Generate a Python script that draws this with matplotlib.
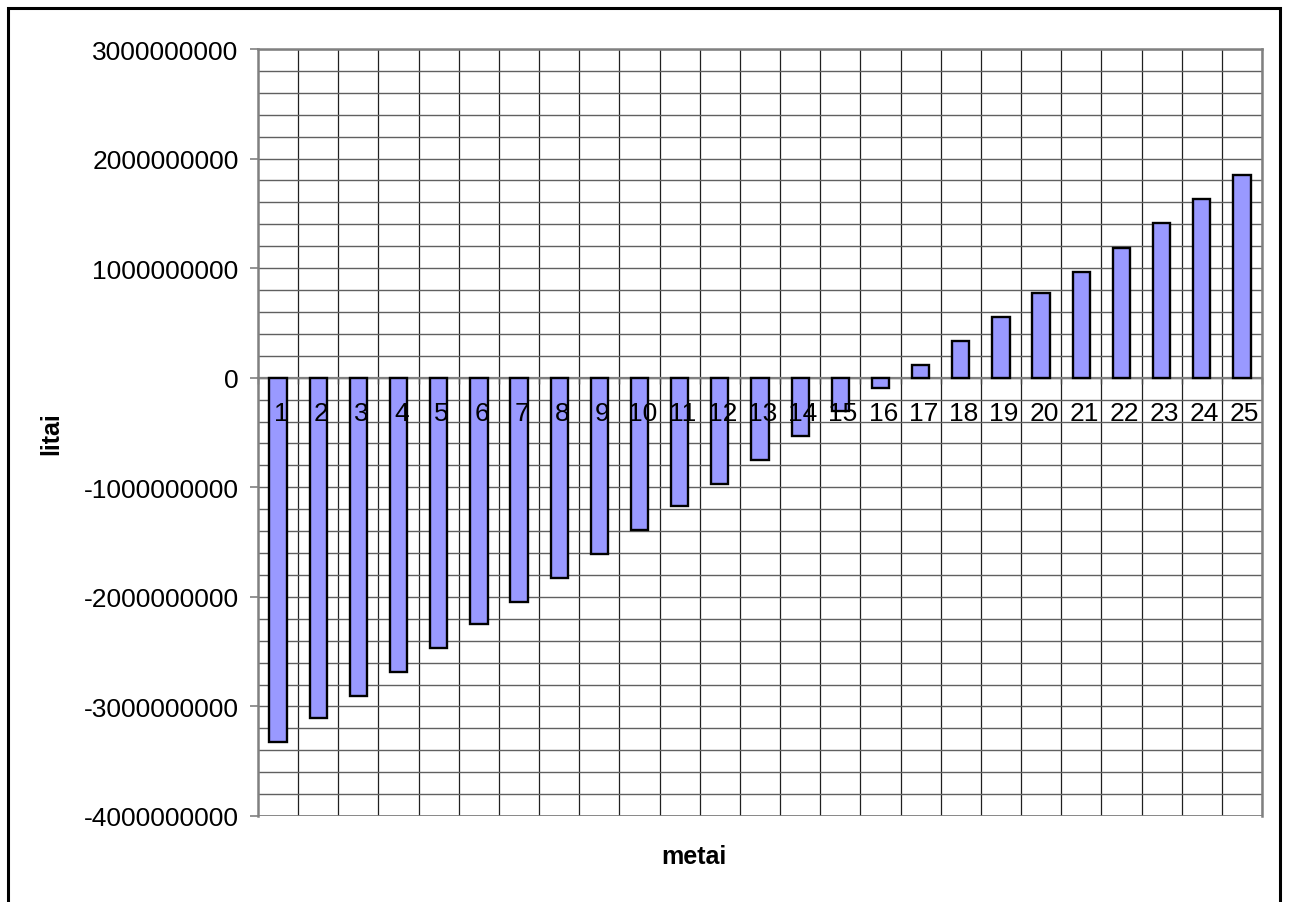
import matplotlib
matplotlib.use("Agg")
import matplotlib.pyplot as plt
import numpy as np
from matplotlib.patches import Rectangle
from matplotlib.ticker import MultipleLocator, FuncFormatter

plt.rcParams['font.family'] = ['Liberation Sans', 'DejaVu Sans']

# Annual balance (litai) per year (metai)
years = list(range(1, 26))
values = [
    -3.325e9, -3.108e9, -2.904e9, -2.685e9, -2.468e9,
    -2.249e9, -2.045e9, -1.828e9, -1.606e9, -1.390e9,
    -1.167e9, -0.972e9, -0.747e9, -0.530e9, -0.308e9,
    -0.091e9, 0.112e9, 0.332e9, 0.551e9, 0.771e9,
    0.969e9, 1.188e9, 1.410e9, 1.630e9, 1.849e9,
]
y_min, y_max = -4e9, 3e9

W, H = 1289, 903
fig = plt.figure(figsize=(W / 100, H / 100), dpi=100)
fig.patch.set_facecolor('white')

# outer chart frame (bottom edge runs off the canvas)
fig.add_artist(Rectangle((7.5 / W, -0.05), (1280 - 7.5) / W, 1 - 9 / H + 0.05,
                         transform=fig.transFigure, fill=False,
                         edgecolor='black', linewidth=2.2, clip_on=False))

ax = fig.add_axes([258 / W, 1 - 817 / H, (1262 - 258) / W, (817 - 50) / H])
x = np.arange(len(years))

ax.bar(x, values, width=0.43, color='#9999FF', edgecolor='black',
       linewidth=1.7, zorder=3)

ax.set_xlim(-0.5, len(years) - 0.5)
ax.set_ylim(y_min, y_max)

# grid: category boundaries and 2e8 steps
ax.set_axisbelow(True)
ax.yaxis.set_major_locator(MultipleLocator(1e9))
ax.yaxis.set_minor_locator(MultipleLocator(2e8))
ax.yaxis.set_major_formatter(FuncFormatter(lambda v, p: f"{int(round(v))}"))
ax.grid(axis='y', which='both', color='#606060', linewidth=1.0, zorder=0)
for b in np.arange(-0.5, len(years), 1.0)[1:]:
    ax.axvline(b, color='#202020', linewidth=0.9, zorder=0)

# category axis crosses at zero
ax.spines['bottom'].set_position(('data', 0))
ax.spines['bottom'].set_color('#808080')
ax.spines['bottom'].set_linewidth(1.6)
ax.spines['bottom'].set_zorder(2)
ax.set_xticks(np.arange(-0.5, len(years), 1.0))
ax.tick_params(axis='x', direction='out', length=4, width=1.0,
               color='#404040', labelbottom=False)
ax.axhline(y_min, color='#808080', linewidth=2.0, zorder=2)

for s in ['left', 'right', 'top']:
    ax.spines[s].set_color('#808080')
    ax.spines[s].set_linewidth(1.8)

ax.tick_params(axis='y', which='major', direction='out', length=6,
               width=1.2, color='#808080', pad=8, labelsize=19)
ax.tick_params(axis='y', which='minor', length=0)

# category labels just under the zero line
for xi, yr in zip(x, years):
    ax.annotate(str(yr), xy=(xi, 0), xytext=(2, -25.5), textcoords='offset points',
                ha='center', va='center', fontsize=19, zorder=5)

fig.text(51 / W, 1 - 434 / H, 'litai', rotation=90, ha='center', va='center',
         fontsize=18, fontweight='bold')
fig.text(694 / W, 1 - 857 / H, 'metai', ha='center', va='center',
         fontsize=18, fontweight='bold')

fig.savefig('out.png', dpi=100, facecolor='white')
